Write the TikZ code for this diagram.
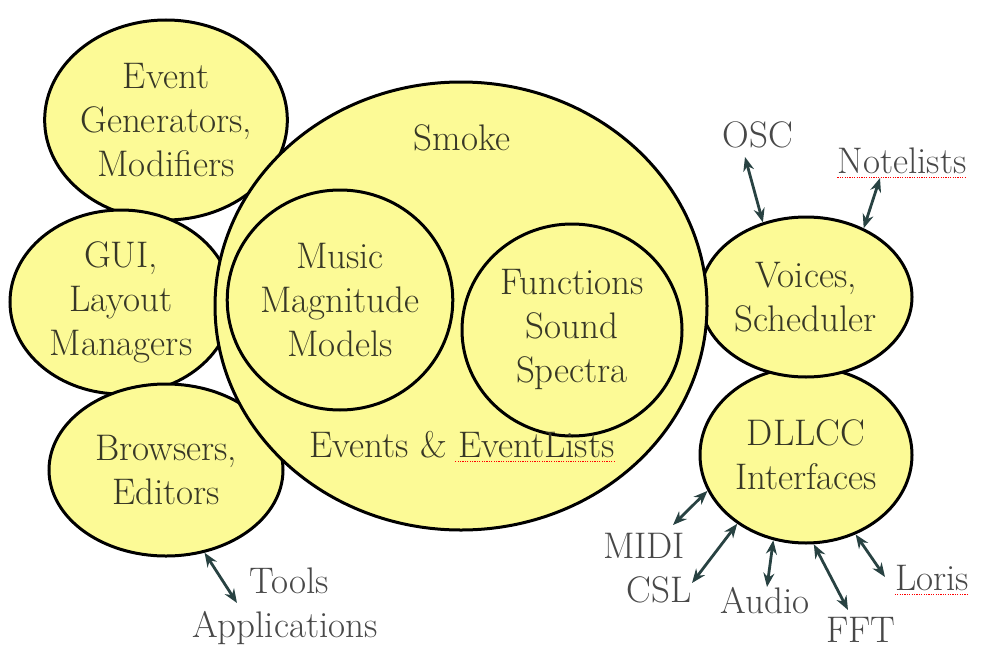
\documentclass[tikz,border=0pt]{standalone}
\usetikzlibrary{arrows.meta,shapes.geometric}
\definecolor{bubble}{RGB}{252,250,150}
\definecolor{inktext}{RGB}{55,55,38}
\definecolor{outtext}{RGB}{72,72,72}
\definecolor{wire}{RGB}{40,66,66}
\newcommand{\bigtext}{\fontsize{37}{44}\selectfont}
\tikzset{
  blob/.style={ellipse,draw,line width=3pt,fill=bubble,inner sep=0pt,
    align=center,text=inktext,font=\bigtext},
  tag/.style={anchor=base,inner sep=0pt,text=outtext,font=\bigtext},
  intag/.style={anchor=base,inner sep=0pt,text=inktext,font=\bigtext},
  io/.style={wire,line width=2.8pt,{Stealth[length=14pt,width=11pt]}-{Stealth[length=14pt,width=11pt]}},
  squig/.style={red,line width=1pt,dash pattern=on 1.2pt off 1.2pt}
}
\begin{document}
\begin{tikzpicture}[x=1pt,y=-1pt]
    \useasboundingbox (0,0) rectangle (995,661);

%left bubbles
    \node[blob,minimum width=240,minimum height=200] (gen) at (166,120) {Event\\Generators,\\Modifiers};
    \node[blob,minimum width=222,minimum height=184] (gui) at (121,302) {GUI,\\Layout\\Managers};
    \node[blob,minimum width=234,minimum height=172] (browse) at (166,470) {Browsers,\\Editors};
%right bubbles
    \node[blob,minimum width=212,minimum height=176] (dllcc) at (806,455) {DLLCC\\Interfaces};
    \node[blob,minimum width=212,minimum height=160] (voices) at (806,297) {Voices,\\Scheduler};
%core
    \node[blob,minimum width=492,minimum height=448] (smoke) at (461,306) {};
    \node[blob,minimum width=204,minimum height=220] (music) at (340,300) {Music\\Magnitude\\Models};
    \node[blob,minimum width=220,minimum height=212] (funcs) at (572,330) {Functions\\Sound\\Spectra};

    \node[intag] (smokelbl) at (462,150) {Smoke};
    \node[intag] (events) at (462,457) {Events \& EventLists};

%%%%        Labels
    \node[tag] (osc) at (758,147) {OSC};
    \node[tag] (notes) at (902,173) {Notelists};
    \node[tag] (midi) at (644,558) {MIDI};
    \node[tag] (csl) at (659,602) {CSL};
    \node[tag] (audio) at (765,613) {Audio};
    \node[tag] (fft) at (861,642) {FFT};
    \node[tag] (loris) at (932,590) {Loris};
    \node[tag] (tools) at (289,593) {Tools};
    \node[tag] (apps) at (285,637) {Applications};

%%%%        Arrows
    \coordinate (oscT) at (745,157);
    \coordinate (notesT) at (880,178);
    \coordinate (midiT) at (673,525);
    \coordinate (cslT) at (692,583);
    \coordinate (audioT) at (767,587);
    \coordinate (fftT) at (848,610);
    \coordinate (lorisT) at (885,577);
    \coordinate (toolsT) at (237,603);

    \draw[io] (oscT) -- (voices.120);
    \draw[io] (notesT) -- (voices.50);
    \draw[io] (midiT) -- (dllcc.200);
    \draw[io] (cslT) -- (dllcc.225);
    \draw[io] (audioT) -- (dllcc.249);
    \draw[io] (fftT) -- (dllcc.275);
    \draw[io] (lorisT) -- (dllcc.302);
    \draw[io] (toolsT) -- (browse.295);

%%%%        spell marks
    \draw[squig] ([yshift=-4pt]events.base east) -- ++(-160,0);
    \draw[squig] ([yshift=-4pt]notes.base west) -- ([yshift=-4pt]notes.base east);
    \draw[squig] ([yshift=-4pt]loris.base west) -- ([yshift=-4pt]loris.base east);
\end{tikzpicture}
\end{document}
